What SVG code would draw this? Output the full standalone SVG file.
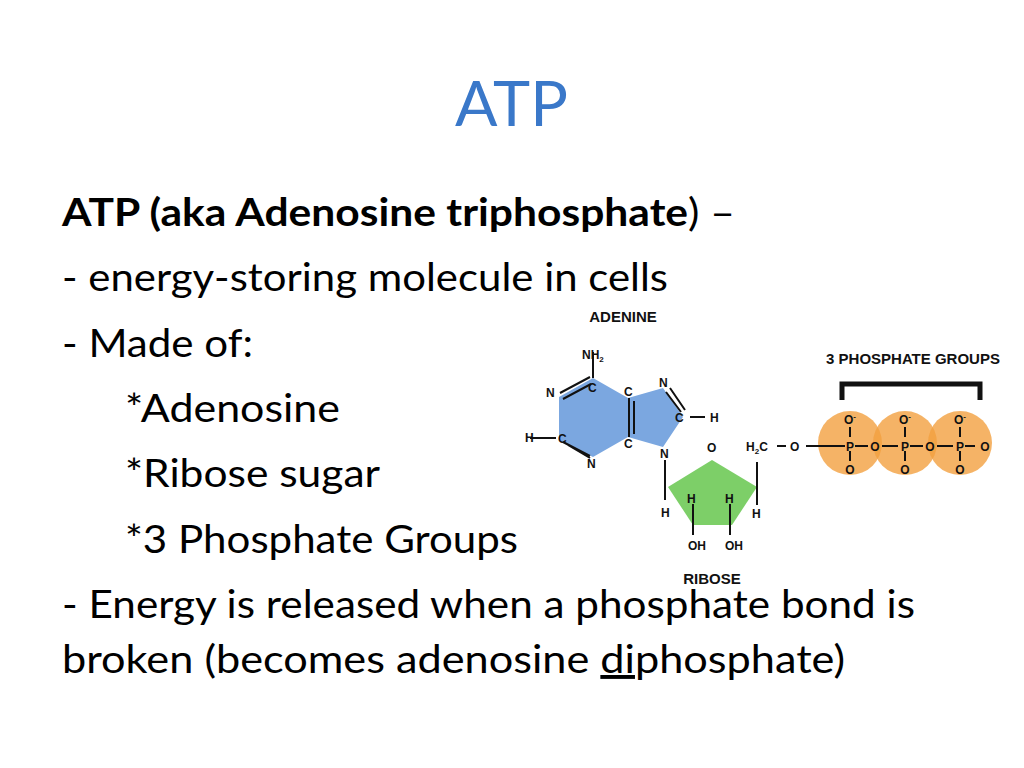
<svg xmlns="http://www.w3.org/2000/svg" width="1024" height="768" viewBox="0 0 1024 768">
<style>
.t{font-family:Lato,"Open Sans",sans-serif;font-size:39px;fill:#000}
.m{font-family:"Liberation Sans",Arial,sans-serif;font-weight:bold;font-size:12px;fill:#111}
.l{font-family:"Liberation Sans",Arial,sans-serif;font-weight:bold;font-size:15px;fill:#111}
.b{stroke:#111;stroke-width:2;fill:none}
</style>
<rect width="1024" height="768" fill="#fff"/>
<text x="455" y="126" textLength="113" lengthAdjust="spacingAndGlyphs" font-family="Lato,'Open Sans',sans-serif" font-size="62" fill="#3a78c9">ATP</text>
<text class="t" x="62" y="226" textLength="673" lengthAdjust="spacingAndGlyphs"><tspan font-weight="bold">ATP (aka Adenosine triphosphate</tspan>) –</text>
<text class="t" x="62" y="291" textLength="606" lengthAdjust="spacingAndGlyphs">- energy-storing molecule in cells</text>
<text class="t" x="62" y="357" textLength="191" lengthAdjust="spacingAndGlyphs">- Made of:</text>
<text class="t" x="125" y="422" textLength="215" lengthAdjust="spacingAndGlyphs">*Adenosine</text>
<text class="t" x="125" y="487" textLength="255" lengthAdjust="spacingAndGlyphs">*Ribose sugar</text>
<text class="t" x="125" y="553" textLength="393" lengthAdjust="spacingAndGlyphs">*3 Phosphate Groups</text>
<text class="t" x="62" y="618" textLength="853" lengthAdjust="spacingAndGlyphs">- Energy is released when a phosphate bond is</text>
<text class="t" x="62" y="673" textLength="783" lengthAdjust="spacingAndGlyphs">broken  (becomes adenosine <tspan text-decoration="underline">di</tspan>phosphate)</text>
<g id="adenine">
<polygon points="593,378 559,397 559,440 593,457 628,437 663,447 683,417 663,388 628,398" fill="#7ba7e0"/>
<path class="b" d="M593,352V378M560,393L590,377M563,399L591,384M530,438H556M563,442L590,456M568,445L590,458M629,398V437M634,401V434M666,392L681,412M670,388L685,410M690,417H705M665,460V500"/>
<text class="l" x="623" y="322" text-anchor="middle">ADENINE</text>
<text class="m" x="582" y="359">NH<tspan font-size="8" dy="3">2</tspan></text>
<text class="m" x="588" y="392">C</text>
<text class="m" x="546" y="397">N</text>
<text class="m" x="624" y="396">C</text>
<text class="m" x="659" y="387">N</text>
<text class="m" x="675" y="422">C</text>
<text class="m" x="710" y="422">H</text>
<text class="m" x="525" y="442">H</text>
<text class="m" x="558" y="443">C</text>
<text class="m" x="624" y="448">C</text>
<text class="m" x="587" y="468">N</text>
<text class="m" x="660" y="458">N</text>
<text class="m" x="661" y="517">H</text>
</g>
<g id="ribose">
<polygon points="712,460 668,487 693,525 732,525 757,487" fill="#7dcf68"/>
<path class="b" d="M693,504V535M730,504V535M757,462V505M777,446H786"/>
<text class="m" x="707" y="452">O</text>
<text class="m" x="687" y="503">H</text>
<text class="m" x="725" y="503">H</text>
<text class="m" x="752" y="518">H</text>
<text class="m" x="688" y="550">OH</text>
<text class="m" x="725" y="550">OH</text>
<text class="m" x="746" y="451">H<tspan font-size="8" dy="3">2</tspan><tspan dy="-3">C</tspan></text>
<text class="m" x="790" y="451">O</text>
<text class="l" x="712" y="584" text-anchor="middle">RIBOSE</text>
</g>
<g id="phosphates">
<g fill="#f2a040" fill-opacity="0.8">
<circle cx="850" cy="443" r="32"/><circle cx="905" cy="443" r="32"/><circle cx="960" cy="443" r="32"/>
</g>
<path d="M842,400V384H980V400" stroke="#111" stroke-width="5" fill="none"/>
<text class="l" x="913" y="364" text-anchor="middle">3 PHOSPHATE GROUPS</text>
<path class="b" d="M806,446H845M850,427V437M850,451V461M855,446H868M882,446H898M905,427V437M905,451V461M910,446H923M937,446H953M960,427V437M960,451V461M965,446H975" stroke-width="1.6"/>
<g class="m" text-anchor="middle">
<text x="850" y="424">O<tspan font-size="8" dy="-5">-</tspan></text><text x="850" y="451">P</text><text x="875" y="451">O</text><text x="850" y="474">O</text>
<text x="905" y="424">O<tspan font-size="8" dy="-5">-</tspan></text><text x="905" y="451">P</text><text x="930" y="451">O</text><text x="905" y="474">O</text>
<text x="960" y="424">O<tspan font-size="8" dy="-5">-</tspan></text><text x="960" y="451">P</text><text x="985" y="451">O</text><text x="960" y="474">O</text>
</g>
</g>
</svg>
